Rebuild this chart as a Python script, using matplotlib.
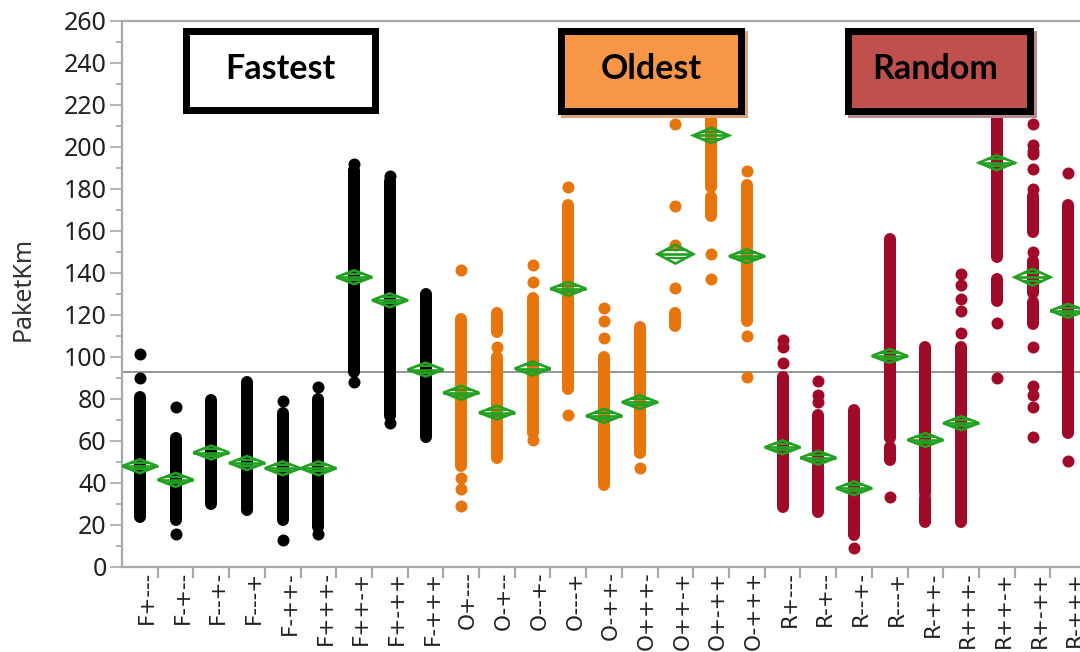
import numpy as np
import matplotlib.pyplot as plt
from matplotlib.patches import Rectangle, Polygon
from matplotlib.transforms import ScaledTranslation

plt.rcParams["font.family"] = ["Noto Sans", "DejaVu Sans"]

# group labels: strategy letter + factor settings
labels = [
    "F+---", "F-+--", "F--+-", "F---+", "F-++-", "F+++-", "F++-+", "F+-++", "F-+++",
    "O+---", "O-+--", "O--+-", "O---+", "O-++-", "O+++-", "O++-+", "O+-++", "O-+++",
    "R+---", "R-+--", "R--+-", "R---+", "R-++-", "R+++-", "R++-+", "R+-++", "R-+++",
]

# dense runs of observations per group (low, high)
dense_runs = [
    [(24, 81)], [(22.5, 61.5)], [(30, 79.5)], [(27, 88)], [(22.5, 73.5)],
    [(19, 80)], [(93, 189)], [(72, 184)], [(62, 130)],
    [(48, 118)], [(52, 100), (112, 121)], [(64, 128)], [(85, 172.5)], [(39, 100)],
    [(54.5, 114.5)], [(115, 121)], [(181, 228), (167, 176)], [(117, 182)],
    [(28.5, 90.5)], [(26, 72.5)], [(15.3, 75)], [(61.5, 156), (51, 57.3)],
    [(35.3, 105), (21.5, 33)], [(21.5, 105)], [(147.5, 228), (126.5, 137)],
    [(159.5, 176.5), (130.7, 145.5), (115.5, 126)], [(64, 172.5)],
]

# isolated observations per group
single_obs = [
    [90, 101.5], [76, 15.5], [], [], [79, 13], [85.5, 15.5], [88, 192], [186, 68.5], [],
    [141.5, 42.5, 37, 29], [105], [144, 135.5, 60.5], [181, 72.5], [123.5, 117, 109],
    [47], [211, 172, 153.5, 133], [149, 137], [188.5, 110, 90.5],
    [108.3, 105, 97.3], [88.7, 82, 78.7], [9], [33.5], [],
    [139.3, 134.5, 127.4, 121.7, 111.6], [116, 90],
    [211, 201, 198, 196.5, 189.5, 180, 150, 105, 86, 82, 76, 62], [187.5, 50.5],
]

group_means = [
    48, 41.5, 54.5, 49.5, 47, 47, 138, 127, 94,
    83, 73.5, 94.5, 132.5, 72, 78.5, 149, 205.5, 148,
    57, 52, 37.5, 100.5, 60.5, 68.5, 192.5, 138, 122,
]

# 95% CI half-height of each mean (diamond height)
ci_half = [
    3.3, 3.3, 3.3, 3.3, 3.3, 3.3, 3.3, 3.3, 3.3,
    3.3, 3.3, 3.3, 3.3, 3.3, 3.3, 4.5, 3.6, 3.3,
    3.3, 3.3, 3.3, 3.3, 3.3, 3.3, 3.6, 4, 3.3,
]

grand_mean = 92.7

strategy_color = {"F": "#000000", "O": "#E8740C", "R": "#A00A28"}
diamond_color = "#22A022"
axis_gray = "#A8A8A8"

W, H = 1080, 652
fig = plt.figure(figsize=(W / 100, H / 100), dpi=100)
ax = fig.add_axes([122 / W, 1 - 567 / H, 958 / W, 546 / H])

x = np.arange(len(labels))
dot_pt = 12 * 72 / 100  # dot diameter in points

ax.axhline(grand_mean, color="#8C8C8C", lw=1.3, zorder=1)

for i, lab in enumerate(labels):
    c = strategy_color[lab[0]]
    lows = [r[0] for r in dense_runs[i]]
    highs = [r[1] for r in dense_runs[i]]
    if lows:
        ax.vlines([x[i]] * len(lows), lows, highs, colors=c, lw=dot_pt,
                  capstyle="round", zorder=2)
    if single_obs[i]:
        ax.plot([x[i]] * len(single_obs[i]), single_obs[i], "o", color=c,
                ms=dot_pt, mew=0, zorder=2)

# means diamonds
hw = 0.5
for i, (m, h) in enumerate(zip(group_means, ci_half)):
    ax.add_patch(Polygon([(x[i] - hw, m), (x[i], m + h), (x[i] + hw, m), (x[i], m - h)],
                         closed=True, fill=False, ec=diamond_color, lw=1.9, zorder=3))
    ax.hlines(m, x[i] - hw, x[i] + hw, color=diamond_color, lw=1.9, zorder=3)
    for s in (-1, 1):
        ax.hlines(m + s * 0.45 * h, x[i] - 0.55 * hw, x[i] + 0.55 * hw,
                  color=diamond_color, lw=1.6, zorder=3)

ax.set_xlim(-0.5, 26.33)
ax.set_ylim(0, 260)
ax.set_yticks(np.arange(0, 261, 20))
ax.set_yticks(np.arange(0, 261, 10), minor=True)
ax.set_xticks(x[:-1] + 0.5)
ax.set_xticklabels([])
ax.set_xticks(x, minor=True)
ax.set_xticklabels(labels, minor=True, rotation=90, va="top", ha="center",
                   family=["DejaVu Sans"])

for sp in ("left", "bottom", "top"):
    ax.spines[sp].set_color(axis_gray)
    ax.spines[sp].set_linewidth(1.6)
ax.spines["right"].set_visible(False)

ax.tick_params(axis="y", which="major", length=9, width=1.2, color=axis_gray,
               labelsize=18, labelcolor="#222222", pad=2)
ax.tick_params(axis="y", which="minor", length=4, width=1.2, color=axis_gray)
ax.tick_params(axis="x", which="major", length=8, width=1.6, color=axis_gray)
ax.tick_params(axis="x", which="minor", length=0, labelsize=15.5,
               labelcolor="#222222", pad=3)

shift = ScaledTranslation(7 / 100, 0, fig.dpi_scale_trans)
for t in ax.get_xticklabels(minor=True):
    t.set_transform(t.get_transform() + shift)

ax.set_ylabel("PaketKm", fontsize=18, color="#333333")
ax.yaxis.set_label_coords(-0.09, 0.51)


def px_rect(x0, y0, x1, y1):
    return (x0 / W, 1 - y1 / H), (x1 - x0) / W, (y1 - y0) / H


# strategy tag boxes
tags = [
    ("Fastest", (182, 27, 378, 113), "#FFFFFF", None, 280),
    ("Oldest", (557, 27, 744, 114), "#F79646", "#D8A47E", 651),
    ("Random", (844, 27, 1033, 114), "#C0504D", "#B48C8E", 935),
]
bw = 7
for text, (x0, y0, x1, y1), fc, shadow, tx in tags:
    if shadow:
        xy, w, h = px_rect(x0 + 4, y0 + 4, x1 + 4, y1 + 4)
        fig.add_artist(Rectangle(xy, w, h, transform=fig.transFigure,
                                 fc=shadow, ec="none", zorder=5))
    xy, w, h = px_rect(x0 + bw / 2, y0 + bw / 2, x1 - bw / 2, y1 - bw / 2)
    fig.add_artist(Rectangle(xy, w, h, transform=fig.transFigure, fc=fc,
                             ec="black", lw=bw * 0.72, zorder=6))
    fig.text(tx / W, 1 - 79 / H, text, ha="center", va="baseline",
             fontsize=24.5, fontweight="bold", family=["Lato", "DejaVu Sans"],
             color="black", zorder=7)

fig.savefig("out.png", dpi=100)
